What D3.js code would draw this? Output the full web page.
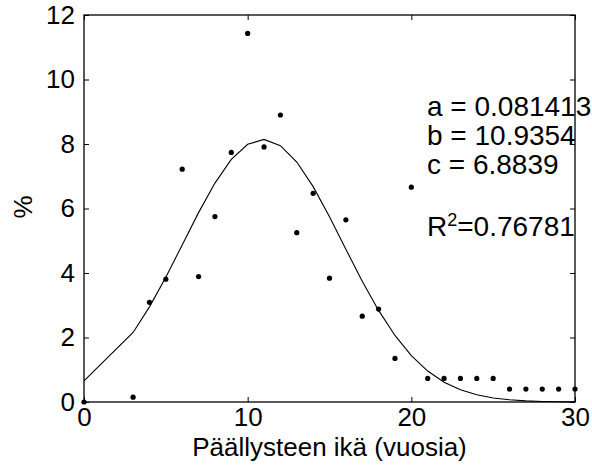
<!DOCTYPE html>
<html>
<head>
<meta charset="utf-8">
<script src="https://cdn.jsdelivr.net/npm/d3@7"></script>
<style>
  html, body { margin: 0; padding: 0; background: #fff; }
  svg { display: block; font-family: Arial, "Liberation Sans", Helvetica, sans-serif; }
</style>
</head>
<body>
<svg id="chart" width="592" height="473"></svg>
<script>
// Observed data (age in years, share in %)
const ages = [0, 3, 4, 5, 6, 7, 8, 9, 10, 11, 12, 13, 14, 15, 16, 17, 18, 19, 20, 21, 22, 23, 24, 25, 26, 27, 28, 29, 30];
const observed = [0, 0.15, 3.09, 3.81, 7.22, 3.89, 5.75, 7.74, 11.43, 7.91, 8.9, 5.25, 6.47, 3.84, 5.65, 2.66, 2.88, 1.35, 6.66, 0.73, 0.73, 0.73, 0.73, 0.73, 0.40, 0.40, 0.40, 0.40, 0.40];
// Fitted curve values at the same ages
const fitted = [0.653, 2.156, 2.950, 3.871, 4.869, 5.872, 6.788, 7.523, 7.992, 8.141, 7.949, 7.441, 6.678, 5.745, 4.738, 3.747, 2.840, 2.064, 1.438, 0.960, 0.615, 0.377, 0.222, 0.125, 0.068, 0.035, 0.017, 0.008, 0.004];
const xTicks = [0, 10, 20, 30];
const yTicks = [0, 2, 4, 6, 8, 10, 12];
const fitText = ["a = 0.081413", "b = 10.9354", "c = 6.8839"];
const r2Value = "0.76781";
const xLabel = "Päällysteen ikä (vuosia)";
const yLabel = "%";

const L = 84, R = 575, T = 15, B = 402;
const svg = d3.select("#chart");
const x = d3.scaleLinear().domain([0, 30]).range([L, R]);
const y = d3.scaleLinear().domain([0, 12]).range([B, T]);
const fs = 26;
const fsNote = 28;
const tickLen = 5;

// Axes with inward ticks
const gx = svg.append("g").attr("transform", `translate(0,${B})`)
  .call(d3.axisBottom(x).tickValues(xTicks).tickSizeInner(-tickLen).tickSizeOuter(0).tickPadding(6));
const gxTop = svg.append("g").attr("transform", `translate(0,${T})`)
  .call(d3.axisTop(x).tickValues(xTicks).tickSizeInner(-tickLen).tickSizeOuter(0).tickFormat(""));
const gy = svg.append("g").attr("transform", `translate(${L},0)`)
  .call(d3.axisLeft(y).tickValues(yTicks).tickSizeInner(-tickLen).tickSizeOuter(0).tickPadding(9));
const gyR = svg.append("g").attr("transform", `translate(${R},0)`)
  .call(d3.axisRight(y).tickValues(yTicks).tickSizeInner(-tickLen).tickSizeOuter(0).tickFormat(""));

[gx, gxTop, gy, gyR].forEach(g => {
  g.select(".domain").remove();
  g.selectAll(".tick line").attr("stroke", "#000").attr("stroke-width", 1);
  g.selectAll(".tick text").attr("fill", "#000").attr("font-size", fs)
    .attr("font-family", "Arial, 'Liberation Sans', sans-serif");
});

// Frame
svg.append("rect").attr("x", L).attr("y", T).attr("width", R - L).attr("height", B - T)
  .attr("fill", "none").attr("stroke", "#000").attr("stroke-width", 1.3);

// Fit line
const line = d3.line().x((d, i) => x(ages[i])).y(d => y(d));
svg.append("path").datum(fitted).attr("d", line)
  .attr("fill", "none").attr("stroke", "#000").attr("stroke-width", 1.1);

// Data points
svg.append("g").selectAll("circle").data(observed).join("circle")
  .attr("cx", (d, i) => x(ages[i])).attr("cy", d => y(d)).attr("r", 2.6).attr("fill", "#000");

// Annotations
const tx = 427;
const rowsY = [116, 145, 174];
fitText.forEach((t, i) => {
  svg.append("text").attr("x", tx).attr("y", rowsY[i]).attr("font-size", fsNote).attr("fill", "#000").text(t);
});
const r2 = svg.append("text").attr("x", tx).attr("y", 236).attr("font-size", fsNote).attr("fill", "#000");
r2.append("tspan").text("R");
r2.append("tspan").attr("font-size", 18).attr("dy", -10).text("2");
r2.append("tspan").attr("dy", 10).text("=" + r2Value);

// Axis labels
svg.append("text").attr("x", (L + R) / 2).attr("y", 456).attr("text-anchor", "middle")
  .attr("font-size", fs).attr("fill", "#000").text(xLabel);
svg.append("text").attr("transform", `translate(32,207) rotate(-90)`).attr("text-anchor", "middle")
  .attr("font-size", fs).attr("fill", "#000").text(yLabel);
</script>
</body>
</html>
